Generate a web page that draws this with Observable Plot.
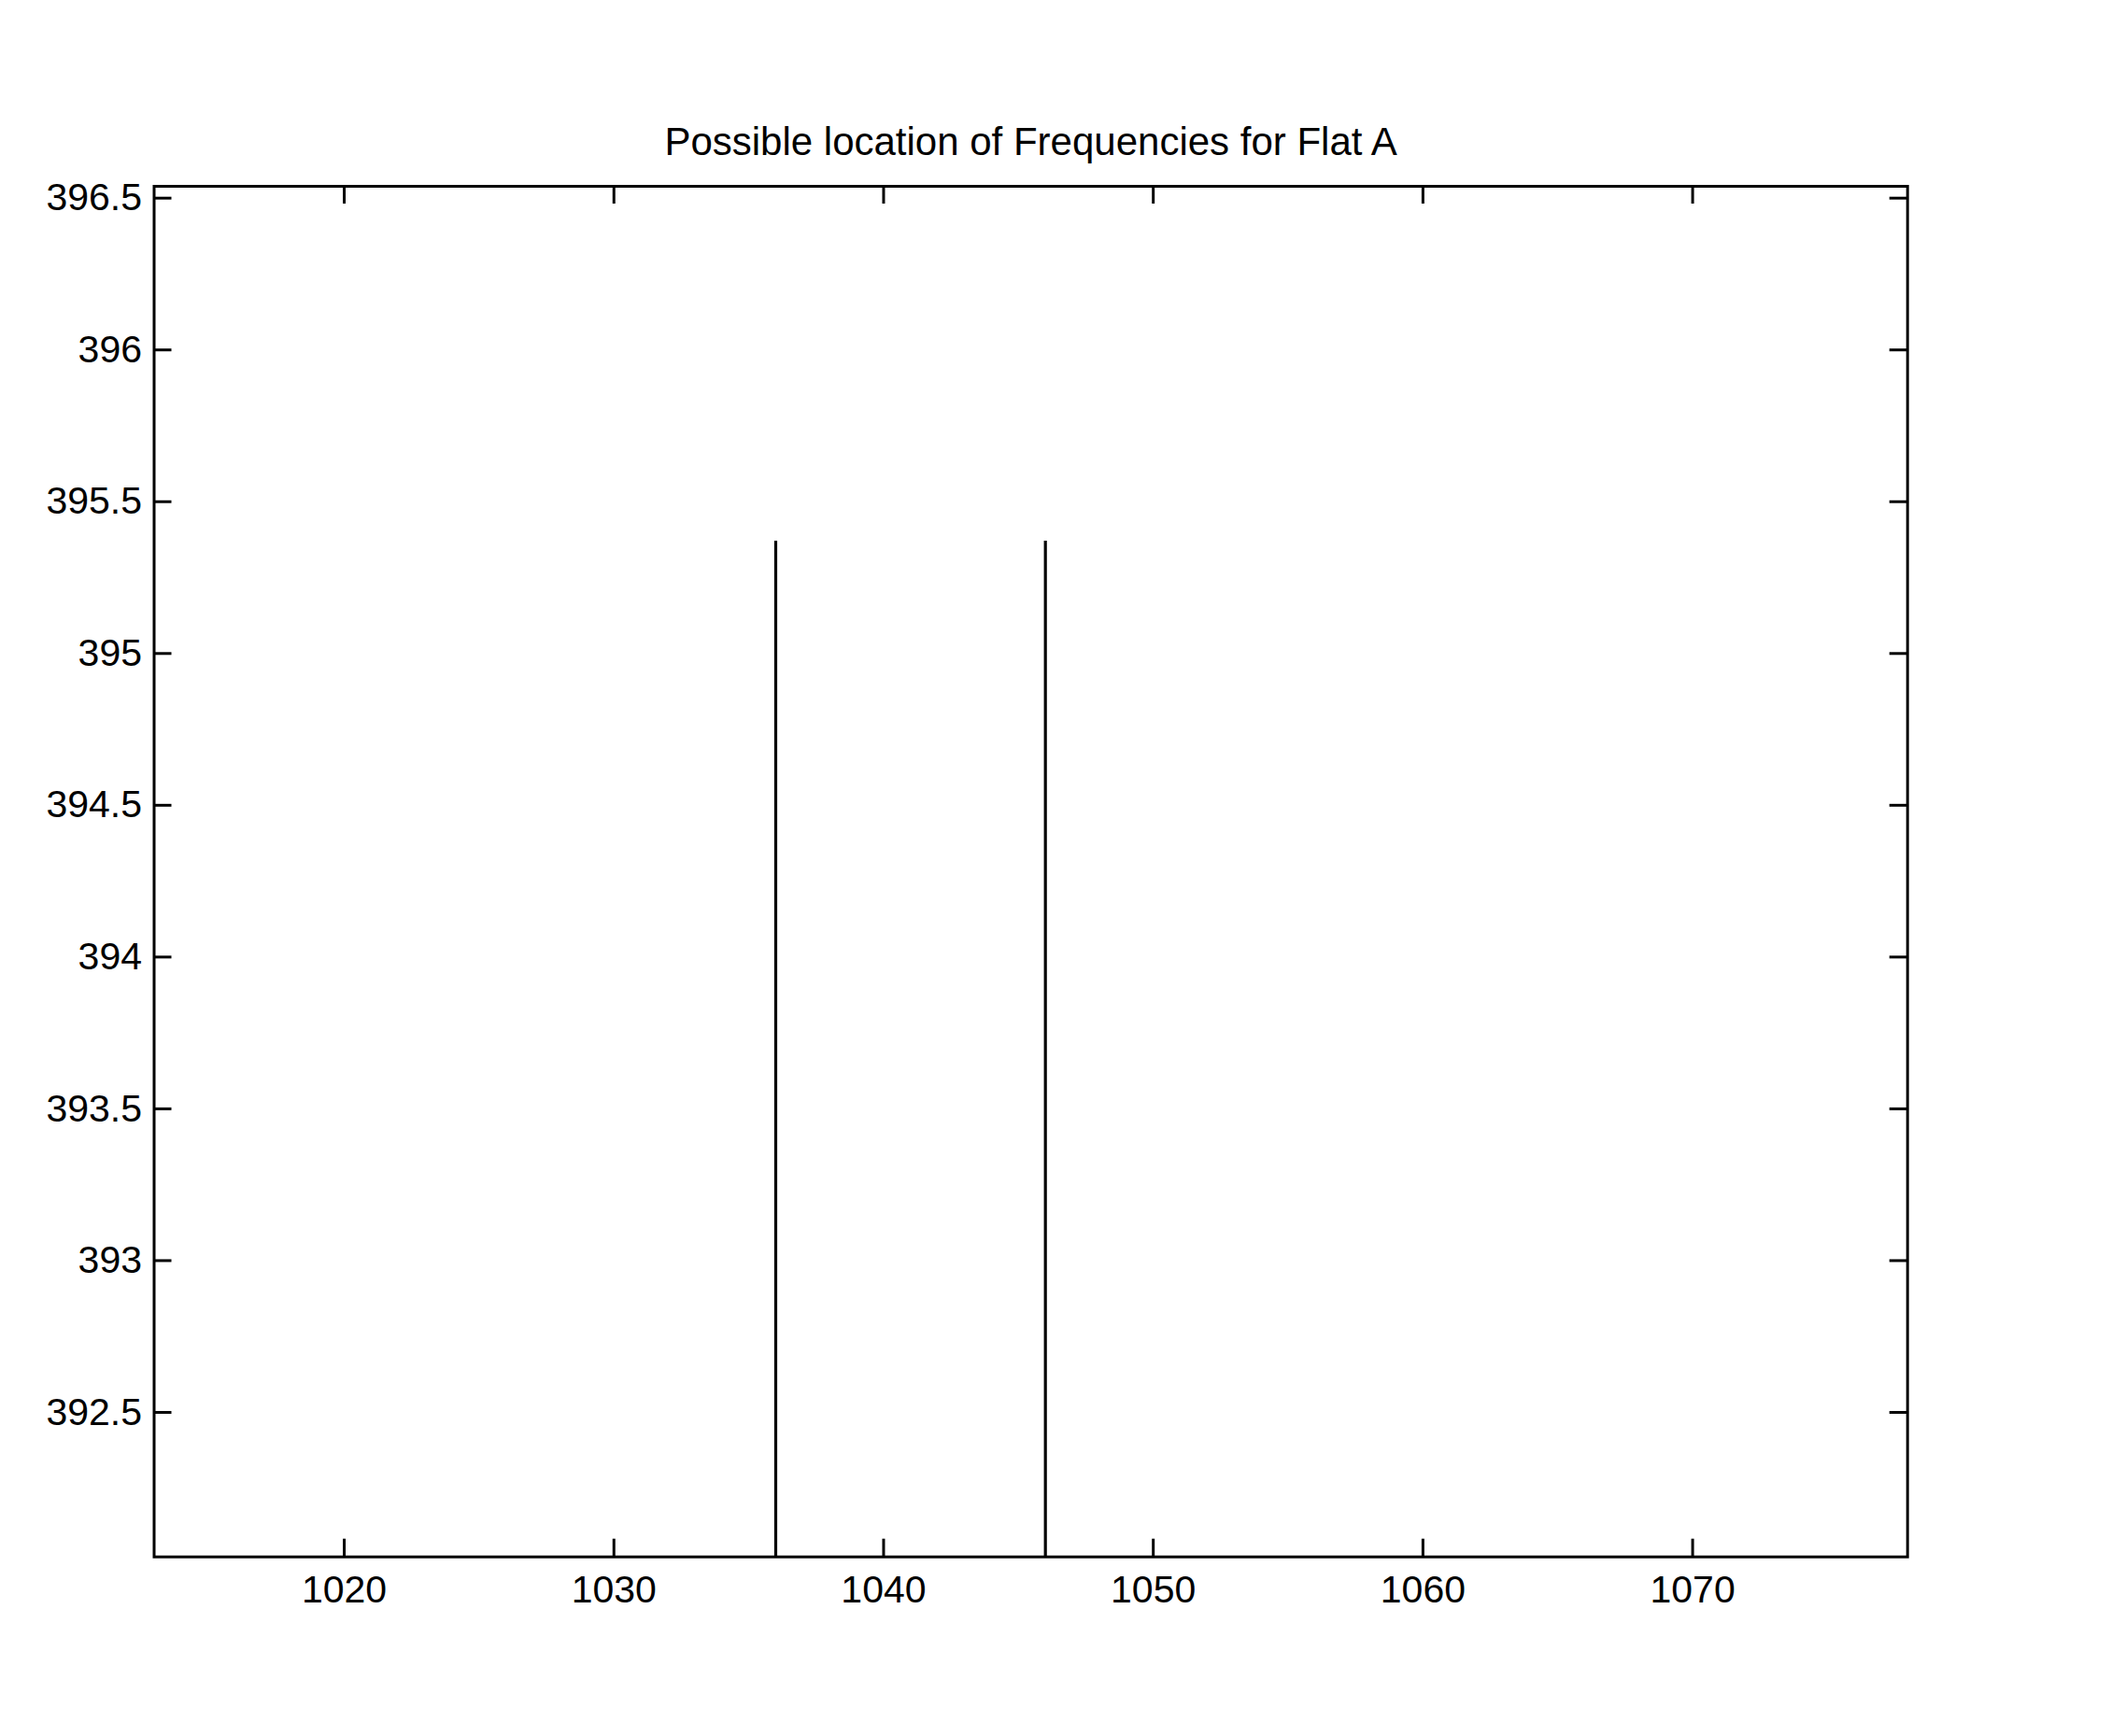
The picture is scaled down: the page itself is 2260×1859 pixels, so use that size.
<!DOCTYPE html>
<html>
<head>
<meta charset="utf-8">
<script src="https://cdn.jsdelivr.net/npm/d3@7"></script>
<script src="https://cdn.jsdelivr.net/npm/@observablehq/plot@0.6"></script>
<style>
  html, body { margin: 0; padding: 0; background: #fff; }
  #chart svg { display: block; }
</style>
</head>
<body>
<div id="chart"></div>
<script>
const titleText = "Possible location of Frequencies for Flat A";
const stemX = [1036, 1046];
const stemTop = [395.37, 395.37];
const xTicks = [1020, 1030, 1040, 1050, 1060, 1070];
const yTicks = [392.5, 393, 393.5, 394, 394.5, 395, 395.5, 396, 396.5];
const xDomain = [1012.95, 1077.97];
const yDomain = [392.024, 396.539];

const W = 2260, H = 1859;
const mL = 164.5, mT = 199, mR = 218.3, mB = 192.3;
const frameH = H - mT - mB;
const frameW = W - mL - mR;
const tick = 19;

const stems = stemX.map((x, i) => ({x, y2: stemTop[i]}));
const font = "'Liberation Sans', Arial, Helvetica, sans-serif";

const chart = Plot.plot({
  width: W,
  height: H,
  marginLeft: mL,
  marginTop: mT,
  marginRight: mR,
  marginBottom: mB,
  style: {fontFamily: font, fontSize: "40px", color: "#000", background: "#fff"},
  x: {domain: xDomain, ticks: xTicks, tickFormat: d => String(d)},
  y: {domain: yDomain, ticks: yTicks, tickFormat: d => String(d)},
  marks: [
    Plot.ruleX(stems, {x: "x", y1: yDomain[0], y2: "y2", stroke: "#000", strokeWidth: 3.2}),
    Plot.ruleX(xTicks, {x: d => d, insetTop: frameH - tick, stroke: "#000", strokeWidth: 3}),
    Plot.ruleX(xTicks, {x: d => d, insetBottom: frameH - tick, stroke: "#000", strokeWidth: 3}),
    Plot.ruleY(yTicks, {y: d => d, insetRight: frameW - tick, stroke: "#000", strokeWidth: 3}),
    Plot.ruleY(yTicks, {y: d => d, insetLeft: frameW - tick, stroke: "#000", strokeWidth: 3}),
    Plot.axisX({anchor: "bottom", ticks: xTicks, tickSize: 0, tickPadding: 20, fontSize: 41, label: null, tickFormat: d => String(d)}),
    Plot.axisY({anchor: "left", ticks: yTicks, tickSize: 0, tickPadding: 13, fontSize: 41, label: null, tickFormat: d => String(d)}),
    Plot.frame({stroke: "#000", strokeWidth: 3}),
    Plot.text([titleText], {frameAnchor: "top", dy: -47, text: d => d, fontSize: 42, fill: "#000", lineAnchor: "middle"})
  ]
});
document.getElementById("chart").appendChild(chart);
</script>
</body>
</html>
